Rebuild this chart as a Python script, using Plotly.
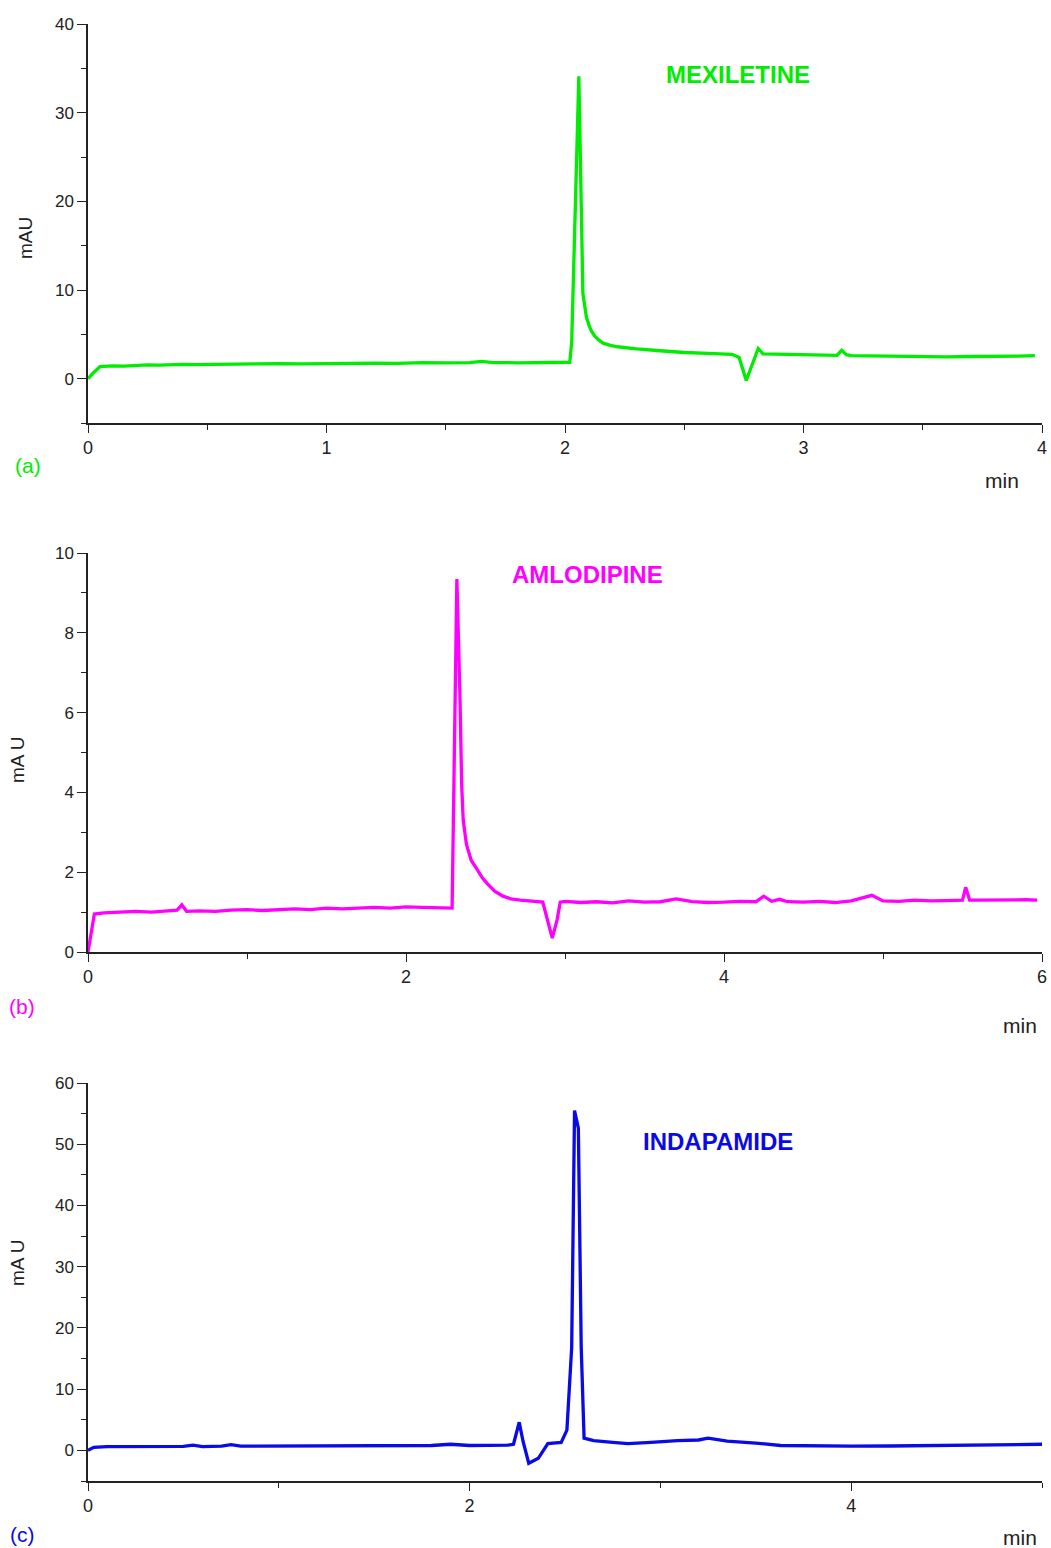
import plotly.graph_objects as go

# ---- (a) Mexiletine chromatogram ----
time_a = [0, 0.02, 0.05, 0.1, 0.15, 0.2, 0.25, 0.3, 0.35, 0.4, 0.45, 0.5, 0.6, 0.7, 0.8,
          0.9, 1.0, 1.1, 1.2, 1.3, 1.4, 1.5, 1.6, 1.65, 1.7, 1.8, 1.9, 2.0, 2.02,
          2.028, 2.058, 2.075, 2.083, 2.09, 2.1, 2.11, 2.125, 2.14, 2.16, 2.19, 2.22,
          2.26, 2.3, 2.4, 2.5, 2.6, 2.7, 2.73, 2.76, 2.785, 2.81, 2.83, 2.9, 3.0,
          3.1, 3.14, 3.16, 3.18, 3.2, 3.3, 3.4, 3.5, 3.6, 3.7, 3.8, 3.9, 3.97]
mau_a = [0, 0.6, 1.35, 1.45, 1.42, 1.5, 1.55, 1.52, 1.6, 1.62, 1.58, 1.6, 1.62, 1.65, 1.7,
         1.66, 1.72, 1.69, 1.75, 1.72, 1.8, 1.77, 1.8, 1.95, 1.82, 1.79, 1.83, 1.8, 1.85,
         4.1, 34.1, 9.6, 8.0, 6.9, 6.1, 5.4, 4.8, 4.4, 4.0, 3.75, 3.6,
         3.45, 3.35, 3.15, 2.95, 2.85, 2.75, 2.4, -0.2, 1.6, 3.4, 2.8, 2.75, 2.65,
         2.6, 2.62, 3.2, 2.7, 2.6, 2.55, 2.5, 2.5, 2.45, 2.5, 2.48, 2.55, 2.6]

# ---- (b) Amlodipine chromatogram ----
time_b = [0, 0.04, 0.1, 0.2, 0.3, 0.4, 0.5, 0.56, 0.59, 0.62, 0.7, 0.8, 0.9, 1.0, 1.1,
          1.2, 1.3, 1.4, 1.5, 1.6, 1.7, 1.8, 1.9, 2.0, 2.1, 2.2, 2.29, 2.32, 2.33,
          2.34, 2.35, 2.36, 2.38, 2.41, 2.45, 2.48, 2.51, 2.56, 2.61, 2.66, 2.72,
          2.79, 2.86, 2.89, 2.92, 2.95, 2.97,
          3.0, 3.1, 3.2, 3.3, 3.4, 3.5, 3.6, 3.7, 3.8, 3.9, 4.0, 4.1, 4.2, 4.25,
          4.3, 4.35, 4.4, 4.5, 4.6, 4.7, 4.8, 4.93, 5.0, 5.1, 5.2, 5.3, 5.4, 5.5,
          5.52, 5.545, 5.6, 5.7, 5.8, 5.9, 5.97]
mau_b = [0, 0.95, 0.98, 1.0, 1.02, 1.0, 1.03, 1.05, 1.18, 1.02, 1.03, 1.02, 1.05, 1.06, 1.04,
         1.05, 1.08, 1.06, 1.1, 1.08, 1.1, 1.12, 1.1, 1.13, 1.12, 1.1, 1.1, 9.35, 8.0,
         6.3, 4.2, 3.3, 2.7, 2.3, 2.05, 1.86, 1.72, 1.52, 1.4, 1.33, 1.3,
         1.27, 1.25, 0.8, 0.35, 0.8, 1.25,
         1.27, 1.24, 1.26, 1.23, 1.28, 1.25, 1.26, 1.33, 1.26, 1.24, 1.25, 1.27, 1.26, 1.4,
         1.27, 1.32, 1.26, 1.25, 1.27, 1.24, 1.28, 1.42, 1.28, 1.27, 1.3, 1.28, 1.29, 1.3,
         1.62, 1.3, 1.3, 1.31, 1.3, 1.31, 1.3]

# ---- (c) Indapamide chromatogram ----
time_c = [0, 0.03, 0.1, 0.2, 0.3, 0.4, 0.5, 0.55, 0.6, 0.7, 0.75, 0.8, 1.0, 1.2, 1.4,
          1.6, 1.8, 1.9, 2.0, 2.1, 2.2, 2.23, 2.26, 2.28, 2.31, 2.36, 2.41, 2.48,
          2.51, 2.535, 2.55, 2.57, 2.585, 2.6, 2.65, 2.75, 2.83, 2.95, 3.09, 3.2,
          3.25, 3.35, 3.5, 3.63, 3.8, 4.0, 4.2, 4.4, 4.6, 4.8, 5.0]
mau_c = [0, 0.5, 0.6, 0.6, 0.62, 0.6, 0.65, 0.85, 0.62, 0.68, 0.95, 0.7, 0.7, 0.72, 0.72,
         0.75, 0.8, 1.0, 0.8, 0.82, 0.85, 1.0, 4.6, 1.5, -2.1, -1.3, 1.1, 1.3,
         3.3, 16.8, 55.5, 52.6, 16.8, 2.0, 1.6, 1.3, 1.1, 1.3, 1.6, 1.7,
         2.0, 1.5, 1.2, 0.8, 0.7, 0.7, 0.72, 0.8, 0.85, 0.9, 1.0]

GREEN = "#00ec00"
MAGENTA = "#ff00ff"
BLUE = "#0a0ae8"

W, H = 1051, 1548


def px_x(p):
    return p / W


def px_y(p):
    return 1 - p / H


fig = go.Figure()
fig.add_trace(go.Scatter(x=time_a, y=mau_a, mode="lines",
                         line=dict(color=GREEN, width=3.3), xaxis="x", yaxis="y"))
fig.add_trace(go.Scatter(x=time_b, y=mau_b, mode="lines",
                         line=dict(color=MAGENTA, width=3.3), xaxis="x2", yaxis="y2"))
fig.add_trace(go.Scatter(x=time_c, y=mau_c, mode="lines",
                         line=dict(color=BLUE, width=3.3), xaxis="x3", yaxis="y3"))

tick_font_y = dict(family="Liberation Sans, Arial, sans-serif", size=17, color="#222")
tick_font_x = dict(family="Liberation Sans Narrow, Liberation Sans, Arial, sans-serif",
                   size=18, color="#222")


def xaxis(rng, dtick, minor, ydom_anchor):
    return dict(domain=[px_x(88), px_x(1042)], range=rng, anchor=ydom_anchor,
                showgrid=False, zeroline=False, showline=True, linecolor="#222",
                linewidth=1.5, ticks="outside", ticklen=8, tickwidth=1.3,
                tickcolor="#222", tick0=0, dtick=dtick, tickfont=tick_font_x,
                minor=dict(ticks="outside", ticklen=5, tickwidth=1.3,
                           tickcolor="#222", dtick=minor, tick0=0),
                automargin=False)


def yaxis(rng, dtick, minor, top_px, bottom_px, xanchor):
    return dict(domain=[px_y(bottom_px), px_y(top_px)], range=rng, anchor=xanchor,
                showgrid=False, zeroline=False, showline=True, linecolor="#222",
                linewidth=1.5, ticks="outside", ticklen=9, tickwidth=1.3,
                tickcolor="#222", tick0=0, dtick=dtick, tickfont=tick_font_y,
                minor=dict(ticks="outside", ticklen=5, tickwidth=1.3,
                           tickcolor="#222", dtick=minor, tick0=0),
                automargin=False)


fig.update_layout(
    width=W, height=H,
    margin=dict(l=0, r=0, t=0, b=0),
    paper_bgcolor="white", plot_bgcolor="white",
    showlegend=False,
    xaxis=xaxis([0, 4], 1, 0.5, "y"),
    yaxis=yaxis([-5, 40], 10, 5, 24, 423, "x"),
    xaxis2=xaxis([0, 6], 2, 1, "y2"),
    yaxis2=yaxis([0, 10], 2, 1, 553, 952, "x2"),
    xaxis3=xaxis([0, 5], 2, 1, "y3"),
    yaxis3=yaxis([-5, 60], 10, 5, 1083, 1481, "x3"),
)

label_font = "Liberation Sans, Arial, sans-serif"
narrow_font = "Liberation Sans Narrow, Liberation Sans, Arial, sans-serif"


def note(text, x, y, xref="paper", yref="paper", size=21, color="#222",
         family=narrow_font, angle=0):
    return dict(text=text, x=x, y=y, xref=xref, yref=yref, textangle=angle,
                xanchor="center", yanchor="middle", showarrow=False,
                font=dict(family=family, size=size, color=color))


annotations = [
    # compound names
    note("<b>MEXILETINE</b>", 2.725, 34.3, "x", "y", 24, GREEN, label_font),
    note("<b>AMLODIPINE</b>", 3.14, 9.45, "x2", "y2", 24, MAGENTA, label_font),
    note("<b>INDAPAMIDE</b>", 3.30, 50.5, "x3", "y3", 24, BLUE, label_font),
    # panel letters
    note("(a)", px_x(28), px_y(466), color=GREEN),
    note("(b)", px_x(22), px_y(1006), color=MAGENTA),
    note("(c)", px_x(22), px_y(1534), color=BLUE),
    # x-axis units
    note("min", px_x(1002), px_y(481)),
    note("min", px_x(1020), px_y(1025)),
    note("min", px_x(1020), px_y(1537)),
    # y-axis units
    note("mAU", px_x(25), px_y(238), size=19, family=label_font, angle=-90),
    note("mA U", px_x(17), px_y(760), size=19, family=label_font, angle=-90),
    note("mA U", px_x(17), px_y(1263), size=19, family=label_font, angle=-90),
]
fig.update_layout(annotations=annotations)

fig.write_html("out.html")
